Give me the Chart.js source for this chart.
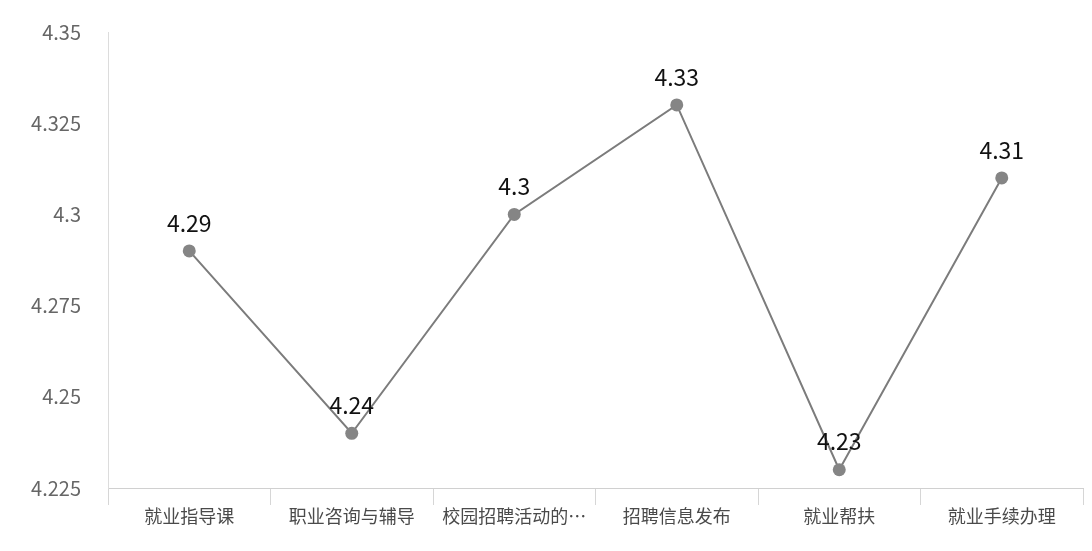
<!DOCTYPE html>
<html>
<head>
<meta charset="utf-8">
<script src="https://cdn.jsdelivr.net/npm/chart.js@4"></script>
<style>
  html, body { margin: 0; padding: 0; background: #fff; }
  #wrap { width: 1092px; height: 551px; }
</style>
</head>
<body>
<div id="wrap"><canvas id="chart" width="1092" height="551"></canvas></div>
<script>
const categories = ['就业指导课', '职业咨询与辅导', '校园招聘活动的…', '招聘信息发布', '就业帮扶', '就业手续办理'];
const scores = [4.29, 4.24, 4.3, 4.33, 4.23, 4.31];
const yTicks = [4.225, 4.25, 4.275, 4.3, 4.325, 4.35];

const FONT = "'Noto Sans CJK SC', 'Noto Sans', sans-serif";

// draws the number above every point (no datalabels plugin available offline)
const pointLabels = {
  id: 'pointLabels',
  afterDatasetsDraw(chart) {
    const ctx = chart.ctx;
    const meta = chart.getDatasetMeta(0);
    ctx.save();
    ctx.font = '23px ' + FONT;
    ctx.fillStyle = '#111';
    ctx.textAlign = 'center';
    ctx.textBaseline = 'middle';
    meta.data.forEach((pt, i) => {
      ctx.fillText(String(scores[i]), pt.x, pt.y - 28);
    });
    ctx.restore();
  }
};

new Chart(document.getElementById('chart'), {
  type: 'line',
  data: {
    labels: categories,
    datasets: [{
      data: scores,
      borderColor: '#7c7c7c',
      backgroundColor: '#858585',
      borderWidth: 2,
      pointRadius: 6.5,
      pointBorderWidth: 0,
      tension: 0,
      fill: false
    }]
  },
  options: {
    responsive: false,
    animation: false,
    layout: { padding: { top: 32, right: 9, left: 0, bottom: 0 } },
    plugins: { legend: { display: false }, tooltip: { enabled: false } },
    scales: {
      x: {
        offset: true,
        grid: {
          offset: true,
          drawOnChartArea: false,
          drawTicks: true,
          tickLength: 17,
          color: '#d6d6d6'
        },
        border: { color: '#d0d0d0', width: 1 },
        ticks: {
          color: '#4a4a4a',
          font: { family: FONT, size: 18 },
          padding: 0,
          maxRotation: 0,
          autoSkip: false
        },
        afterFit(scale) { scale.height = 63; }
      },
      y: {
        min: 4.225,
        max: 4.35,
        afterBuildTicks(scale) { scale.ticks = yTicks.map(v => ({ value: v })); },
        grid: { display: false, drawTicks: false },
        border: { color: '#dcdcdc', width: 1 },
        ticks: {
          color: '#666',
          font: { family: FONT, size: 20 },
          padding: 27,
          callback: v => String(+v.toFixed(3))
        },
        afterFit(scale) {
          scale.width = 108;
          // ticks.padding also pads the top, undo that
          scale.paddingTop = 0;
          scale.paddingBottom = 0;
        }
      }
    }
  },
  plugins: [pointLabels]
});
</script>
</body>
</html>
